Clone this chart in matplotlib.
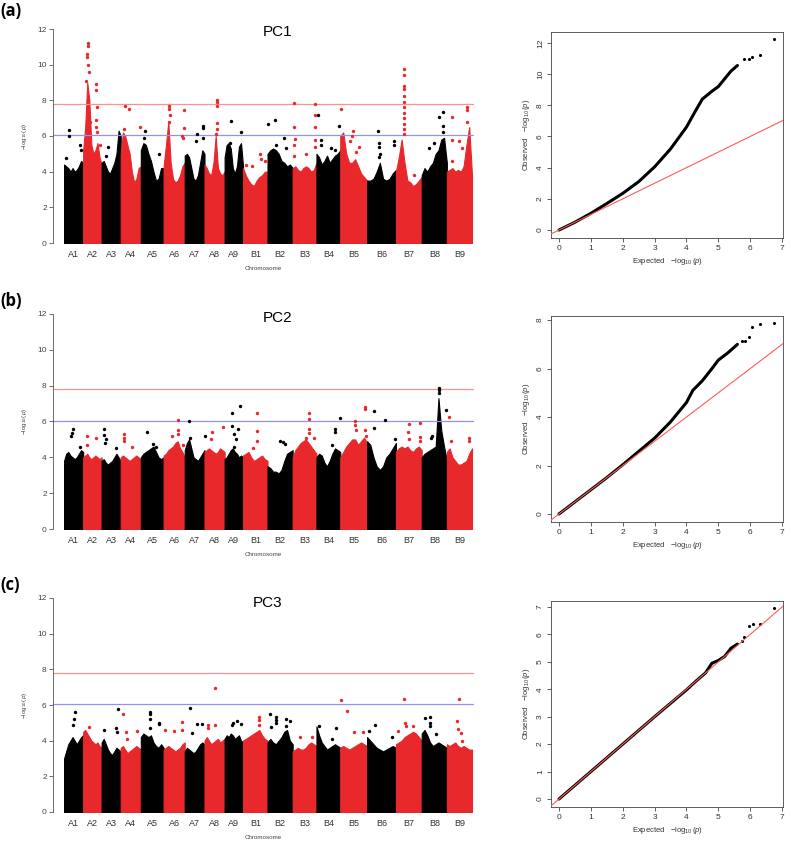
import numpy as np
import matplotlib
matplotlib.use("Agg")
import matplotlib.pyplot as plt

plt.rcParams['font.family'] = ['Liberation Sans', 'DejaVu Sans']
plt.rcParams['mathtext.fontset'] = 'custom'
plt.rcParams['mathtext.rm'] = 'Liberation Sans'
plt.rcParams['mathtext.it'] = 'Liberation Sans:italic'

# chromosomes (approx. lengths in Mb, read from the widths on the x axis)
chrom_names = ['A1', 'A2', 'A3', 'A4', 'A5', 'A6', 'A7', 'A8', 'A9',
               'B1', 'B2', 'B3', 'B4', 'B5', 'B6', 'B7', 'B8', 'B9']
chrom_len = [114, 110, 114, 120, 136, 126, 118, 120, 110,
             146, 150, 142, 142, 160, 172, 154, 150, 150]

# top of the dense cloud of SNPs, 10 samples along each chromosome
pc1_env = [
    [4.4, 4.3, 4.2, 4.0, 4.2, 4.0, 4.1, 4.3, 4.6, 4.5],
    [5.2, 6.5, 9.0, 8.0, 5.5, 5.0, 5.2, 5.6, 4.8, 4.4],
    [4.5, 4.6, 4.3, 4.0, 3.9, 4.2, 4.5, 5.0, 6.3, 6.0],
    [5.0, 6.2, 6.0, 5.5, 5.0, 4.0, 3.4, 3.6, 4.2, 4.3],
    [5.2, 5.6, 5.5, 5.0, 4.6, 4.0, 3.5, 3.6, 4.2, 4.2],
    [4.3, 5.5, 6.8, 4.5, 3.6, 3.4, 3.5, 3.8, 4.3, 4.5],
    [4.9, 5.0, 4.8, 4.2, 3.6, 3.5, 3.8, 4.5, 5.2, 5.0],
    [4.4, 4.2, 3.9, 3.8, 4.5, 6.0, 4.2, 3.9, 3.8, 4.0],
    [4.8, 5.5, 5.6, 5.3, 4.2, 3.9, 4.3, 5.4, 5.6, 4.3],
    [4.2, 3.8, 3.5, 3.3, 3.2, 3.5, 3.7, 3.8, 4.0, 4.0],
    [5.0, 5.2, 5.3, 5.2, 5.0, 4.6, 4.5, 4.3, 4.4, 4.2],
    [4.2, 4.3, 4.1, 4.0, 4.2, 4.3, 4.2, 4.0, 4.1, 4.5],
    [5.0, 4.8, 4.4, 4.6, 4.9, 4.5, 4.7, 4.9, 5.0, 5.2],
    [6.0, 6.2, 5.0, 4.5, 4.5, 4.7, 4.3, 3.9, 3.7, 3.5],
    [3.5, 3.5, 3.6, 4.0, 4.5, 3.6, 3.5, 3.6, 3.9, 4.1],
    [4.0, 4.8, 5.8, 4.5, 3.5, 3.4, 3.2, 3.3, 3.5, 3.7],
    [3.8, 4.2, 4.0, 4.3, 4.5, 5.0, 5.2, 5.8, 5.9, 4.5],
    [4.0, 4.1, 4.2, 4.0, 4.1, 4.0, 4.3, 5.5, 6.5, 3.8],
]
pc2_env = [
    [3.8, 4.2, 4.3, 4.1, 4.0, 3.9, 4.0, 4.2, 4.4, 4.3],
    [4.0, 4.1, 4.2, 4.0, 3.9, 4.0, 4.1, 4.0, 3.9, 4.0],
    [3.8, 3.9, 3.7, 3.6, 3.7, 3.8, 4.0, 4.2, 4.0, 3.8],
    [4.0, 4.1, 4.0, 3.9, 3.8, 3.9, 4.0, 4.1, 4.0, 3.9],
    [4.0, 4.2, 4.3, 4.4, 4.5, 4.6, 4.3, 4.0, 3.9, 4.0],
    [4.1, 4.2, 4.4, 4.5, 4.6, 4.8, 4.9, 4.5, 4.3, 4.0],
    [4.4, 4.8, 5.0, 4.5, 4.0, 3.9, 3.8, 4.0, 4.2, 4.4],
    [4.3, 4.4, 4.5, 4.4, 4.3, 4.2, 4.3, 4.5, 4.4, 4.3],
    [3.9, 4.0, 4.2, 4.4, 4.5, 4.3, 4.2, 4.0, 4.1, 4.0],
    [4.1, 4.2, 4.3, 4.0, 3.8, 3.9, 4.0, 4.1, 3.9, 3.8],
    [3.5, 3.4, 3.2, 3.2, 3.1, 3.3, 3.8, 4.2, 4.3, 4.4],
    [4.0, 4.4, 4.6, 4.8, 4.9, 5.0, 4.8, 4.6, 4.4, 4.2],
    [4.0, 4.2, 4.1, 3.7, 3.5, 3.8, 4.2, 4.5, 4.4, 4.3],
    [4.0, 4.3, 4.6, 4.8, 5.0, 5.0, 4.7, 4.9, 5.1, 4.8],
    [4.9, 4.7, 4.0, 3.5, 3.3, 3.5, 4.0, 4.2, 4.5, 4.8],
    [4.3, 4.5, 4.6, 4.5, 4.6, 4.4, 4.3, 4.5, 4.6, 4.4],
    [4.0, 4.2, 4.3, 4.4, 4.5, 4.6, 7.3, 5.5, 4.6, 3.8],
    [4.3, 4.5, 4.0, 3.8, 3.6, 3.6, 3.7, 3.8, 4.2, 4.5],
]
pc3_env = [
    [3.0, 3.4, 3.8, 4.0, 4.2, 4.0, 3.8, 4.0, 4.2, 4.3],
    [4.5, 4.6, 4.4, 4.2, 4.0, 3.9, 3.8, 3.9, 3.7, 3.6],
    [3.9, 4.1, 3.8, 3.5, 3.3, 3.2, 3.4, 3.6, 3.5, 3.4],
    [3.6, 3.7, 3.5, 3.3, 3.4, 3.5, 3.6, 3.7, 3.6, 3.5],
    [4.2, 4.4, 4.3, 4.2, 4.3, 3.9, 3.7, 3.6, 3.8, 3.6],
    [3.5, 3.6, 3.7, 3.6, 3.5, 3.4, 3.5, 3.6, 3.8, 3.9],
    [3.4, 3.6, 3.5, 3.4, 3.3, 3.4, 3.6, 3.8, 3.9, 3.8],
    [4.0, 4.2, 4.0, 3.8, 3.9, 4.0, 4.1, 3.9, 4.0, 4.1],
    [4.1, 4.3, 4.2, 4.4, 4.3, 4.1, 4.2, 4.3, 4.0, 3.9],
    [4.0, 4.1, 4.2, 4.3, 4.4, 4.5, 4.6, 4.3, 4.1, 4.0],
    [3.9, 4.1, 3.9, 3.8, 4.0, 4.2, 4.5, 4.6, 4.0, 3.8],
    [3.4, 3.5, 3.6, 3.5, 3.5, 3.6, 3.8, 3.9, 3.8, 3.7],
    [4.8, 4.3, 3.9, 3.7, 3.5, 3.6, 3.7, 3.8, 3.7, 3.6],
    [3.6, 3.7, 3.6, 3.5, 3.6, 3.7, 3.8, 3.9, 3.8, 3.7],
    [4.2, 4.0, 3.8, 3.6, 3.5, 3.4, 3.5, 3.6, 3.7, 3.6],
    [3.8, 3.9, 4.0, 4.2, 4.3, 4.4, 4.5, 4.4, 4.2, 4.0],
    [4.4, 4.6, 4.3, 3.9, 3.7, 3.8, 3.9, 3.8, 3.7, 3.6],
    [3.8, 3.7, 3.8, 3.9, 3.7, 3.6, 3.7, 3.6, 3.5, 3.5],
]

# single SNPs standing out above the cloud: (chromosome, relative position, -log10 p)
pc1_hits = [
    ('A1', 0.25, 6.35), ('A1', 0.25, 6.0), ('A1', 0.85, 5.5), ('A1', 0.9, 5.2), ('A1', 0.1, 4.75),
    ('A2', 0.25, 11.2), ('A2', 0.27, 11.05), ('A2', 0.22, 10.6), ('A2', 0.2, 10.45), ('A2', 0.25, 10.0),
    ('A2', 0.3, 9.6), ('A2', 0.18, 9.1), ('A2', 0.28, 8.0), ('A2', 0.35, 6.8), ('A2', 0.72, 8.9),
    ('A2', 0.72, 8.6), ('A2', 0.75, 7.6), ('A2', 0.72, 6.9), ('A2', 0.72, 6.5), ('A2', 0.75, 6.2),
    ('A2', 0.92, 5.5),
    ('A3', 0.35, 5.4), ('A3', 0.25, 4.9),
    ('A4', 0.2, 7.7), ('A4', 0.43, 7.5), ('A4', 0.15, 6.4), ('A4', 0.35, 5.0), ('A4', 0.98, 6.5),
    ('A5', 0.2, 6.3), ('A5', 0.15, 5.9), ('A5', 0.8, 5.0),
    ('A6', 0.25, 7.7), ('A6', 0.25, 7.5), ('A6', 0.28, 7.2), ('A6', 0.25, 6.8), ('A6', 0.97, 7.45),
    ('A6', 0.97, 6.45), ('A6', 0.92, 5.9), ('A6', 0.85, 6.0),
    ('A7', 0.6, 6.1), ('A7', 0.9, 6.55), ('A7', 0.9, 6.45), ('A7', 0.9, 5.9), ('A7', 0.55, 5.7),
    ('A8', 0.6, 8.0), ('A8', 0.6, 7.9), ('A8', 0.6, 7.7), ('A8', 0.6, 6.75), ('A8', 0.6, 6.4), ('A8', 0.55, 6.1),
    ('A9', 0.33, 6.85), ('A9', 0.87, 6.2), ('A9', 0.3, 5.6),
    ('B1', 0.1, 4.4), ('B1', 0.35, 4.3), ('B1', 0.7, 5.0), ('B1', 0.75, 4.7), ('B1', 0.9, 4.6),
    ('B2', 0.03, 6.65), ('B2', 0.3, 6.9), ('B2', 0.65, 5.9), ('B2', 0.35, 5.5), ('B2', 0.75, 5.3),
    ('B3', 0.06, 7.85), ('B3', 0.06, 6.5), ('B3', 0.08, 5.85), ('B3', 0.06, 5.5), ('B3', 0.95, 7.8),
    ('B3', 0.95, 7.15), ('B3', 0.95, 6.5), ('B3', 0.95, 5.8), ('B3', 0.95, 5.4), ('B3', 0.55, 5.0),
    ('B3', 0.06, 4.9),
    ('B4', 0.08, 7.2), ('B4', 0.18, 5.8), ('B4', 0.2, 5.5), ('B4', 0.6, 5.3), ('B4', 0.95, 6.55), ('B4', 0.8, 5.2),
    ('B5', 0.04, 7.5), ('B5', 0.48, 6.3), ('B5', 0.45, 6.0), ('B5', 0.35, 5.7), ('B5', 0.7, 5.4), ('B5', 0.6, 5.1),
    ('B6', 0.38, 6.3), ('B6', 0.42, 5.6), ('B6', 0.4, 5.4), ('B6', 0.45, 5.0), ('B6', 0.95, 5.7),
    ('B6', 0.95, 5.5), ('B6', 0.4, 4.8),
    ('B7', 0.3, 9.75), ('B7', 0.3, 9.4), ('B7', 0.3, 8.8), ('B7', 0.3, 8.65), ('B7', 0.3, 8.25),
    ('B7', 0.3, 7.9), ('B7', 0.3, 7.6), ('B7', 0.3, 7.3), ('B7', 0.3, 7.0), ('B7', 0.3, 6.7),
    ('B7', 0.3, 6.4), ('B7', 0.3, 6.1), ('B7', 0.72, 3.8),
    ('B8', 0.83, 7.35), ('B8', 0.7, 7.05), ('B8', 0.83, 6.55), ('B8', 0.83, 6.2), ('B8', 0.3, 5.3), ('B8', 0.5, 5.6),
    ('B9', 0.2, 7.05), ('B9', 0.22, 5.8), ('B9', 0.82, 7.6), ('B9', 0.82, 7.45), ('B9', 0.82, 6.8),
    ('B9', 0.5, 5.7), ('B9', 0.6, 5.3), ('B9', 0.2, 4.6),
]
pc2_hits = [
    ('A1', 0.45, 5.6), ('A1', 0.4, 5.35), ('A1', 0.35, 5.2), ('A1', 0.85, 4.6),
    ('A2', 0.2, 5.2), ('A2', 0.7, 5.1), ('A2', 0.2, 4.7),
    ('A3', 0.12, 5.6), ('A3', 0.15, 5.25), ('A3', 0.25, 5.0), ('A3', 0.2, 4.8), ('A3', 0.75, 4.5),
    ('A4', 0.18, 5.3), ('A4', 0.18, 5.1), ('A4', 0.18, 4.9), ('A4', 0.55, 4.6),
    ('A5', 0.27, 5.4), ('A5', 0.55, 4.75), ('A5', 0.65, 4.6),
    ('A6', 0.67, 6.1), ('A6', 0.67, 5.5), ('A6', 0.67, 5.3), ('A6', 0.4, 5.2), ('A6', 0.9, 4.7),
    ('A7', 0.22, 6.0), ('A7', 0.25, 5.1), ('A7', 1.0, 5.2),
    ('A8', 0.35, 5.4), ('A8', 0.92, 5.7), ('A8', 0.3, 5.0),
    ('A9', 0.42, 6.45), ('A9', 0.82, 6.85), ('A9', 0.4, 5.75), ('A9', 0.7, 5.6), ('A9', 0.5, 5.3),
    ('A9', 0.6, 5.0), ('A9', 0.5, 4.6),
    ('B1', 0.58, 6.45), ('B1', 0.58, 5.45), ('B1', 0.57, 4.9), ('B1', 0.4, 4.5),
    ('B2', 0.5, 4.9), ('B2', 0.6, 4.85), ('B2', 0.7, 4.75),
    ('B3', 0.7, 6.45), ('B3', 0.7, 6.15), ('B3', 0.7, 5.6), ('B3', 0.7, 5.35), ('B3', 0.55, 5.1), ('B3', 0.9, 5.1),
    ('B4', 0.8, 5.6), ('B4', 0.8, 5.4), ('B4', 1.0, 6.2), ('B4', 0.65, 4.7),
    ('B5', 0.55, 6.05), ('B5', 0.55, 5.8), ('B5', 0.6, 5.5), ('B5', 0.92, 6.8), ('B5', 0.92, 6.7),
    ('B5', 0.92, 5.5), ('B5', 0.95, 5.2),
    ('B6', 0.23, 6.6), ('B6', 0.25, 5.65), ('B6', 0.62, 6.1), ('B6', 0.97, 5.05),
    ('B7', 0.5, 5.85), ('B7', 0.48, 5.4), ('B7', 0.5, 5.05), ('B7', 0.93, 5.9), ('B7', 0.93, 5.15), ('B7', 0.93, 4.9),
    ('B8', 0.67, 7.85), ('B8', 0.67, 7.75), ('B8', 0.67, 7.6), ('B8', 0.97, 6.65), ('B8', 0.4, 5.2), ('B8', 0.35, 5.1),
    ('B9', 0.1, 6.25), ('B9', 0.15, 4.9), ('B9', 0.9, 5.1), ('B9', 0.9, 4.9),
]
pc3_hits = [
    ('A1', 0.55, 5.6), ('A1', 0.5, 5.2), ('A1', 0.45, 4.9),
    ('A2', 0.3, 4.75),
    ('A3', 0.85, 5.75), ('A3', 0.75, 4.7), ('A3', 0.8, 4.5), ('A3', 0.15, 4.6),
    ('A4', 0.1, 5.5), ('A4', 0.27, 4.5), ('A4', 0.8, 4.55), ('A4', 0.3, 4.1),
    ('A5', 0.4, 5.6), ('A5', 0.4, 5.5), ('A5', 0.42, 5.2), ('A5', 0.78, 5.0), ('A5', 0.8, 4.95), ('A5', 0.4, 4.7),
    ('A6', 0.08, 4.6), ('A6', 0.5, 4.55), ('A6', 0.87, 5.05), ('A6', 0.87, 4.6),
    ('A7', 0.25, 5.85), ('A7', 0.6, 4.95), ('A7', 0.87, 4.95), ('A7', 0.37, 4.45),
    ('A8', 0.52, 6.95), ('A8', 0.52, 4.9), ('A8', 0.15, 4.9), ('A8', 0.15, 4.7),
    ('A9', 0.43, 5.0), ('A9', 0.65, 5.1), ('A9', 0.87, 4.95), ('A9', 0.4, 4.9),
    ('B1', 0.65, 5.3), ('B1', 0.65, 5.15), ('B1', 0.65, 4.9),
    ('B2', 0.08, 5.5), ('B2', 0.33, 5.35), ('B2', 0.33, 5.15), ('B2', 0.33, 5.0), ('B2', 0.72, 5.2),
    ('B2', 0.9, 5.1), ('B2', 0.12, 4.75), ('B2', 0.72, 4.8),
    ('B3', 0.3, 4.2), ('B3', 0.8, 4.2),
    ('B4', 0.1, 4.85), ('B4', 0.82, 4.7), ('B4', 0.65, 4.1),
    ('B5', 0.04, 6.3), ('B5', 0.25, 5.65), ('B5', 0.5, 4.5), ('B5', 0.85, 4.5),
    ('B6', 0.27, 4.9), ('B6', 0.05, 4.55), ('B6', 0.85, 4.2),
    ('B7', 0.3, 6.35), ('B7', 0.35, 5.0), ('B7', 0.68, 4.8), ('B7', 0.1, 4.55), ('B7', 0.4, 4.85),
    ('B8', 0.15, 5.25), ('B8', 0.33, 5.35), ('B8', 0.33, 5.0), ('B8', 0.33, 4.8), ('B8', 0.55, 4.4),
    ('B9', 0.5, 6.35), ('B9', 0.42, 5.1), ('B9', 0.45, 4.65), ('B9', 0.55, 4.45), ('B9', 0.6, 4.0),
]

# QQ plots: bulk of the curve, then the separate top points
qq1_exp = [0, 0.5, 1.0, 1.5, 2.0, 2.5, 3.0, 3.5, 4.0, 4.3, 4.5, 4.8, 5.0, 5.2, 5.4, 5.6]
qq1_obs = [0, 0.5, 1.07, 1.7, 2.35, 3.1, 4.05, 5.2, 6.6, 7.7, 8.4, 8.9, 9.2, 9.7, 10.2, 10.55]
qq1_tail_exp = [5.8, 5.95, 6.05, 6.3, 6.75]
qq1_tail_obs = [10.95, 11.0, 11.1, 11.2, 12.25]

qq2_exp = [0, 0.5, 1.0, 1.5, 2.0, 2.5, 3.0, 3.5, 4.0, 4.2, 4.5, 4.8, 5.0, 5.3, 5.6]
qq2_obs = [0, 0.5, 1.0, 1.5, 2.03, 2.58, 3.13, 3.8, 4.6, 5.1, 5.5, 6.0, 6.35, 6.65, 7.0]
qq2_tail_exp = [5.75, 5.85, 5.95, 6.05, 6.3, 6.75]
qq2_tail_obs = [7.15, 7.15, 7.3, 7.7, 7.85, 7.9]

qq3_exp = [0, 1.0, 2.0, 3.0, 4.0, 4.3, 4.6, 4.8, 5.0, 5.2, 5.4, 5.6]
qq3_obs = [0, 1.0, 2.0, 3.0, 3.98, 4.3, 4.6, 4.95, 5.05, 5.2, 5.5, 5.65]
qq3_tail_exp = [5.75, 5.82, 5.95, 6.1, 6.3, 6.75]
qq3_tail_obs = [5.75, 5.9, 6.3, 6.38, 6.38, 6.95]

suggestive = 6.05
genome_wide = 7.8

RED = '#e8282b'
COLS = ['black', RED]
W, H = 791, 843


def px_box(left, top, right, bottom):
    return [left / W, 1 - bottom / H, (right - left) / W, (bottom - top) / H]


def drawManhattan(ax, env, hits):
    starts = np.concatenate([[0], np.cumsum(chrom_len)[:-1]])
    for i in range(len(chrom_names)):
        col = COLS[i % 2]
        xs = np.linspace(starts[i], starts[i] + chrom_len[i], len(env[i]))
        ax.fill_between(xs, 0, env[i], color=col, lw=0.8, edgecolor=col)
    for name, frac, val in hits:
        i = chrom_names.index(name)
        ax.scatter(starts[i] + frac * chrom_len[i], val, s=6, color=COLS[i % 2],
                   lw=0, zorder=3)
    ax.axhline(genome_wide, color='#ff9090', lw=0.9, zorder=1)
    ax.axhline(suggestive, color='#9090ff', lw=0.9, zorder=1)
    total = np.sum(chrom_len)
    ax.set_xlim(-66, total + 12)
    ax.set_ylim(0, 12)
    ax.set_xticks(starts + np.array(chrom_len) / 2)
    ax.set_xticklabels(chrom_names)
    ax.set_yticks(range(0, 13, 2))
    for s in ['top', 'right', 'bottom']:
        ax.spines[s].set_visible(False)
    ax.spines['left'].set_bounds(0, 12)
    ax.spines['left'].set_color('#555555')
    ax.spines['left'].set_linewidth(0.6)
    ax.tick_params(axis='x', length=0, pad=5, labelsize=6.5, labelcolor='#333333')
    ax.tick_params(axis='y', length=3, width=0.6, pad=1.5, labelsize=6,
                   labelcolor='#444444', color='#555555')
    ax.set_xlabel('Chromosome', fontsize=4.5, color='#444444', labelpad=5)
    ax.set_ylabel(r'$-\log_{10}(p)$', fontsize=4.5, color='#444444', labelpad=6)


def drawQQ(ax, e, o, te, to, ylim, yticks):
    ax.plot(e, o, color='black', lw=2.2, solid_capstyle='round', zorder=2)
    ax.scatter(te, to, s=5, color='black', lw=0, zorder=2)
    ax.axline((0, 0), slope=1, color='#ff5a5a', lw=0.8, zorder=3)
    ax.set_xlim(-0.25, 7.03)
    ax.set_ylim(*ylim)
    ax.set_xticks(range(0, 8))
    ax.set_yticks(yticks)
    for s in ax.spines.values():
        s.set_linewidth(0.6)
        s.set_color('#444444')
    ax.tick_params(length=3, width=0.6, pad=2, labelsize=6, labelcolor='#333333',
                   color='#444444')
    for lab in ax.get_yticklabels():
        lab.set_rotation(90)
        lab.set_va('center')
    ax.set_xlabel(r'Expected   $-\log_{10}(p)$', fontsize=5.5, color='#333333', labelpad=3)
    ax.set_ylabel(r'Observed   $-\log_{10}(p)$', fontsize=5.5, color='#333333', labelpad=4)


fig = plt.figure(figsize=(W / 100, H / 100), dpi=100)

man_boxes = [(29, 243), (314, 529), (598, 812)]
qq_boxes = [(32, 238), (316, 522), (601, 807)]
envs = [pc1_env, pc2_env, pc3_env]
hits = [pc1_hits, pc2_hits, pc3_hits]
titles = ['PC1', 'PC2', 'PC3']
title_pos = [(278, 32), (278, 318), (268, 603)]
panel_tags = ['(a)', '(b)', '(c)']
tag_y = [11, 301, 585]
qq_data = [
    (qq1_exp, qq1_obs, qq1_tail_exp, qq1_tail_obs, (-0.51, 12.7), range(0, 13, 2)),
    (qq2_exp, qq2_obs, qq2_tail_exp, qq2_tail_obs, (-0.33, 8.17), range(0, 9, 2)),
    (qq3_exp, qq3_obs, qq3_tail_exp, qq3_tail_obs, (-0.29, 7.22), range(0, 8)),
]

for k in range(3):
    top, bottom = man_boxes[k]
    ax = fig.add_axes(px_box(53, top, 474, bottom))
    drawManhattan(ax, envs[k], hits[k])
    tx, ty = title_pos[k]
    fig.text(tx / W, 1 - ty / H, titles[k], fontsize=11, ha='center', va='center')
    fig.text(0.0, 1 - tag_y[k] / H, panel_tags[k], fontsize=12, fontweight='bold',
             ha='left', va='center', family=['Open Sans', 'DejaVu Sans'])

    qtop, qbottom = qq_boxes[k]
    qax = fig.add_axes(px_box(551, qtop, 783, qbottom))
    drawQQ(qax, *qq_data[k])

fig.savefig('out.png', dpi=100)
